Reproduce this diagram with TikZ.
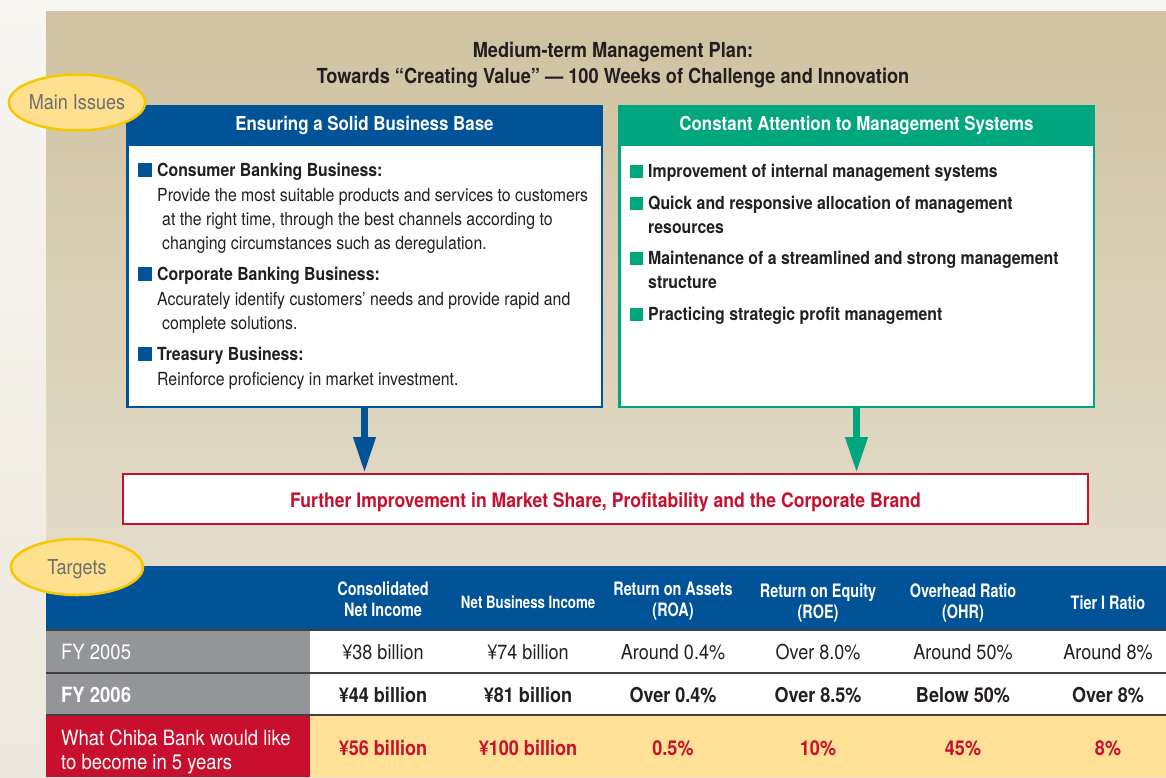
\documentclass[tikz,border=0pt]{standalone}
\usepackage{fontspec}
\setmainfont{TeX Gyre Heros}[FakeStretch=0.88]
\newfontfamily\narrowfont{TeX Gyre Heros}[FakeStretch=0.78]
\usepackage{tikz}
\usetikzlibrary{arrows.meta,shapes.geometric,positioning}

\definecolor{tantop}{RGB}{206,194,160}
\definecolor{tanbottom}{RGB}{236,230,218}
\definecolor{papertop}{RGB}{248,246,242}
\definecolor{paperbottom}{RGB}{237,232,221}
\definecolor{planblue}{RGB}{0,83,150}
\definecolor{plangreen}{RGB}{0,166,126}
\definecolor{planred}{RGB}{200,16,46}
\definecolor{tagfill}{RGB}{254,224,142}
\definecolor{tagline}{RGB}{249,199,0}
\definecolor{taggray}{RGB}{109,110,113}
\definecolor{ink}{RGB}{35,31,32}
\definecolor{fygray}{RGB}{147,149,152}
\definecolor{goalyellow}{RGB}{254,225,150}
\definecolor{rulegray}{RGB}{64,64,66}

\tikzset{
  issuetag/.style={ellipse,draw=tagline,line width=2.5pt,fill=tagfill,
    minimum width=132pt,minimum height=56pt,inner sep=0pt,text=taggray,
    text height=14.7pt,text depth=0pt,font=\fontsize{20.5}{24}\selectfont},
  title/.style={anchor=base,inner sep=0pt,align=center,text=ink,
    font=\bfseries\fontsize{20.7}{26}\selectfont},
  issuebox/.style={draw=#1,line width=2.5pt,fill=white,
    minimum width=474.5pt,minimum height=300.5pt},
  boxhead/.style={fill=#1,minimum width=477pt,minimum height=41pt,inner sep=0pt,
    text=white,text height=13.8pt,text depth=4.8pt,
    font=\bfseries\fontsize{19.2}{24}\selectfont},
  itemhead/.style={anchor=base west,inner sep=0pt,align=left,text=ink,
    font=\bfseries\fontsize{18}{24}\selectfont},
  itembody/.style={anchor=base west,inner sep=0pt,align=left,text=ink,
    font=\fontsize{18}{24}\selectfont},
  flow/.style={draw=#1,line width=7pt,-{Triangle[length=36pt,width=21pt]}},
  goalbox/.style={draw=planred,line width=2pt,fill=white,minimum width=965pt,
    minimum height=50pt,inner sep=0pt,text=planred,text height=16pt,
    text depth=0pt,font=\bfseries\fontsize{20}{24}\selectfont},
  thead/.style={anchor=base,inner sep=0pt,align=center,text=white,
    font=\narrowfont\bfseries\fontsize{18.5}{21.5}\selectfont},
  tcell/.style={anchor=base,inner sep=0pt,text=ink,
    font=\fontsize{20.5}{24}\selectfont},
  tlabel/.style={anchor=base west,inner sep=0pt,align=left,text=white,
    font=\fontsize{21}{24}\selectfont},
}

\begin{document}
\begin{tikzpicture}[x=1pt,y=-1pt]
\useasboundingbox (0,0) rectangle (1166,777);
\shade[top color=papertop,bottom color=paperbottom] (0,0) rectangle (1166,777);
\shade[top color=tantop,bottom color=tanbottom] (46,11) rectangle (1166,777);

% multi-line nodes sit on the baseline of their last line
\node[title] (plan) at (613,83) {Medium-term Management Plan:\\Towards “Creating Value” — 100 Weeks of Challenge and Innovation};

% main issues
\node[issuebox=planblue] (basebox) at (364.5,256.5) {};
\node[boxhead=planblue] (basehead) at (364.5,125.5) {Ensuring a Solid Business Base};
\node[issuebox=plangreen] (sysbox) at (856.5,256.5) {};
\node[boxhead=plangreen] (syshead) at (856.5,125.5) {Constant Attention to Management Systems};

\node[itemhead] (consumer) at (157,176) {Consumer Banking Business:};
\node[itembody] (consumertxt) at (157,249) {Provide the most suitable products and services to customers\\
  \hspace*{5pt}at the right time, through the best channels according to\\
  \hspace*{5pt}changing circumstances such as deregulation.};
\node[itemhead] (corporate) at (157,280) {Corporate Banking Business:};
\node[itembody] (corporatetxt) at (157,329) {Accurately identify customers’ needs and provide rapid and\\
  \hspace*{5pt}complete solutions.};
\node[itemhead] (treasury) at (157,360) {Treasury Business:};
\node[itembody] (treasurytxt) at (157,385) {Reinforce proficiency in market investment.};
\foreach \n in {consumer,corporate,treasury}
  \fill[planblue] ([xshift=-19pt,yshift=-1pt]\n.base west) rectangle ++(14,-14);

\node[itemhead] (internal) at (648,177) {Improvement of internal management systems};
\node[itemhead] (allocation) at (648,233) {Quick and responsive allocation of management\\resources};
\node[itemhead] (structure) at (648,288) {Maintenance of a streamlined and strong management\\structure};
\node[itemhead] (profit) at (648,320) {Practicing strategic profit management};
\foreach \n/\up in {internal/0,allocation/24,structure/24,profit/0}
  \fill[plangreen] ([xshift=-18pt,yshift=\up pt-1pt]\n.base west) rectangle ++(13,-13.5);

\node[goalbox] (goal) at (605.5,499) {Further Improvement in Market Share, Profitability and the Corporate Brand};
\draw[flow=planblue] (basebox.south) -- (basebox.south |- goal.north);
\draw[flow=plangreen] (sysbox.south) -- (sysbox.south |- goal.north);

% targets
\fill[planblue] (46,566) rectangle (1166,629);
\fill[fygray] (46,629) rectangle (310,715);
\fill[white] (310,629) rectangle (1166,715);
\fill[planred] (46,715) rectangle (310,777);
\fill[goalyellow] (310,715) rectangle (1166,777);
\foreach \y in {629.5,672.5,714.5}
  \draw[rulegray,line width=2pt] (46,\y) -- (1166,\y);

\node[thead] (cni) at (383,616.5) {Consolidated\\Net Income};
\node[thead,font=\narrowfont\bfseries\fontsize{17}{21.5}\selectfont] (nbi) at (528,608) {Net Business Income};
\node[thead] (roa) at (673,616.5) {Return on Assets\\(ROA)};
\node[thead] (roe) at (818,618.5) {Return on Equity\\(ROE)};
\node[thead] (ohr) at (963,618.5) {Overhead Ratio\\(OHR)};
\node[thead] (tier) at (1108,609) {Tier I Ratio};

\node[tlabel] (fya) at (61,659) {FY 2005};
\node[tlabel,font=\bfseries\fontsize{21}{24}\selectfont] (fyb) at (61,702) {FY 2006};
\node[tlabel] (fyc) at (61,769) {What Chiba Bank would like\\to become in 5 years};
\foreach \v [count=\i] in {¥38 billion,¥74 billion,Around 0.4\%,Over 8.0\%,Around 50\%,Around 8\%}
  \node[tcell] (va\i) at (238+145*\i,659) {\v};
\foreach \v [count=\i] in {¥44 billion,¥81 billion,Over 0.4\%,Over 8.5\%,Below 50\%,Over 8\%}
  \node[tcell,font=\bfseries\fontsize{20.5}{24}\selectfont] (vb\i) at (238+145*\i,702) {\v};
\foreach \v [count=\i] in {¥56 billion,¥100 billion,0.5\%,10\%,45\%,8\%}
  \node[tcell,text=planred,font=\bfseries\fontsize{20.5}{24}\selectfont] (vc\i) at (238+145*\i,755) {\v};

\node[issuetag] (mainissues) at (77,102.5) {Main Issues};
\node[issuetag] (targets) at (77,567) {Targets};
\end{tikzpicture}
\end{document}
